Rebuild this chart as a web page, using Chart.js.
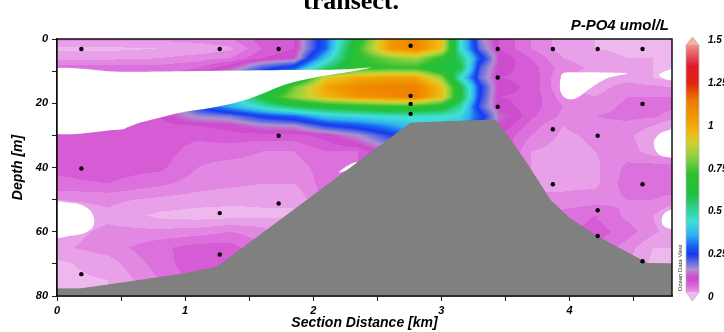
<!DOCTYPE html>
<html><head><meta charset="utf-8">
<script src="https://cdn.jsdelivr.net/npm/chart.js@4.4.1/dist/chart.umd.min.js"></script>
<style>html,body{margin:0;padding:0;background:#fff;overflow:hidden}canvas{display:block}</style>
</head><body>
<canvas id="c" width="724" height="332"></canvas>
<script>
// ---------- DATA ----------
const chartTitle = 'transect.';
const variableName = 'P-PO4 umol/L';
const colorbarTicks = [0, 0.25, 0.5, 0.75, 1, 1.25, 1.5];
const xTickLabels = [0, 1, 2, 3, 4];
const yTickLabels = [0, 20, 40, 60, 80];

// gridded P-PO4 field: columns at gridKm, rows at gridDepth
const gridKm = [0, 0.4, 0.8, 1.1, 1.35, 1.6, 1.85, 2.1, 2.35, 2.6, 2.8, 3.0, 3.15, 3.3, 3.45, 3.7, 3.95, 4.2, 4.45, 4.65, 4.8];
const gridDepth = [0, 3, 6, 9, 12, 15, 18, 21, 24, 27, 30, 35, 40, 45, 50, 55, 60, 65, 70, 75, 80];
const po4ByKm = [
  [0.045,0.015,0.035,0.07,0.08,0.08,0.08,0.08,0.08,0.08,0.085,0.09,0.085,0.075,0.04,0.02,0.03,0.035,0.015,0.015,0.02],
  [0.045,0.015,0.035,0.07,0.08,0.08,0.08,0.08,0.08,0.08,0.085,0.09,0.09,0.08,0.045,0.035,0.045,0.05,0.03,0.02,0.02],
  [0.045,0.02,0.04,0.07,0.08,0.08,0.08,0.08,0.1,0.09,0.09,0.09,0.085,0.065,0.035,0.015,0.045,0.075,0.07,0.06,0.06],
  [0.05,0.025,0.05,0.08,0.1,0.15,0.2,0.25,0.17,0.1,0.085,0.07,0.06,0.05,0.03,0.01,0.05,0.09,0.095,0.09,0.09],
  [0.06,0.035,0.06,0.12,0.2,0.3,0.4,0.36,0.19,0.11,0.09,0.07,0.05,0.045,0.025,0.012,0.06,0.09,0.09,0.09,0.09],
  [0.09,0.08,0.1,0.22,0.3,0.45,0.62,0.47,0.26,0.15,0.09,0.06,0.05,0.04,0.025,0.015,0.05,0.06,0.06,0.06,0.06],
  [0.1,0.1,0.12,0.28,0.5,0.78,0.83,0.58,0.3,0.16,0.09,0.06,0.05,0.04,0.02,0.02,0.02,0.02,0.02,0.02,0.02],
  [0.3,0.3,0.4,0.55,0.92,1.02,0.98,0.64,0.4,0.24,0.11,0.08,0.07,0.07,0.07,0.07,0.07,0.07,0.07,0.07,0.07],
  [0.65,0.72,0.7,0.7,1.0,1.1,1.06,0.68,0.43,0.28,0.16,0.08,0.08,0.08,0.08,0.08,0.08,0.08,0.08,0.08,0.08],
  [1.05,1.05,0.8,0.72,1.03,1.12,1.1,0.72,0.46,0.34,0.24,0.14,0.12,0.12,0.12,0.12,0.12,0.12,0.12,0.12,0.12],
  [1.12,1.1,0.85,0.72,1.02,1.12,1.12,0.72,0.46,0.4,0.35,0.35,0.35,0.35,0.35,0.35,0.35,0.35,0.35,0.35,0.35],
  [0.95,0.95,0.7,0.6,0.82,0.96,0.96,0.66,0.45,0.4,0.4,0.4,0.4,0.4,0.4,0.4,0.4,0.4,0.4,0.4,0.4],
  [0.45,0.45,0.55,0.6,0.45,0.6,0.62,0.5,0.42,0.4,0.4,0.4,0.4,0.4,0.4,0.4,0.4,0.4,0.4,0.4,0.4],
  [0.18,0.2,0.28,0.22,0.2,0.26,0.25,0.22,0.28,0.25,0.2,0.2,0.2,0.2,0.2,0.2,0.2,0.2,0.2,0.2,0.2],
  [0.1,0.1,0.12,0.11,0.1,0.11,0.1,0.11,0.14,0.12,0.1,0.1,0.1,0.1,0.1,0.1,0.1,0.1,0.1,0.1,0.1],
  [0.06,0.06,0.08,0.09,0.095,0.095,0.095,0.09,0.085,0.07,0.06,0.04,0.04,0.04,0.04,0.04,0.04,0.04,0.04,0.04,0.04],
  [0.03,0.03,0.04,0.05,0.04,0.04,0.05,0.06,0.055,0.04,0.035,0.03,0.03,0.035,0.045,0.07,0.07,0.07,0.07,0.07,0.07],
  [0.02,0.02,0.03,0.035,0.03,0.03,0.04,0.05,0.06,0.055,0.045,0.04,0.035,0.035,0.05,0.08,0.09,0.08,0.08,0.08,0.08],
  [0.02,0.015,0.02,0.03,0.03,0.05,0.06,0.065,0.065,0.055,0.045,0.05,0.065,0.07,0.06,0.055,0.07,0.05,0.04,0.04,0.04],
  [0.02,0.015,0.02,0.02,0.02,0.045,0.06,0.07,0.065,0.04,0.025,0.03,0.07,0.08,0.06,0.04,0.045,0.02,0.015,0.015,0.015],
  [0.02,0.02,0.015,0.01,0.01,0.04,0.06,0.065,0.05,0.02,0.015,0.02,0.07,0.08,0.05,0.02,0.03,0.02,0.02,0.02,0.02]
];

// areas left blank (no gridded value)
const gapA_km    = [-0.1, 0.5, 1.0, 1.5, 2.0, 2.3, 2.45, 2.3, 2.03, 1.77, 1.5, 1.24, 0.98, 0.8, 0.65, 0.55, 0.45, -0.1];
const gapA_depth = [10.3, 10.2, 10.0, 9.8, 9.6, 9.3, 8.9, 10.1, 11.8, 14.3, 18.6, 21.2, 22.8, 24.5, 26.0, 27.5, 28.3, 28.3];
const gapB_km    = [-0.1, 0.1, 0.2, 0.26, 0.29, 0.28, 0.22, 0.12, -0.1];
const gapB_depth = [51.2, 51.0, 51.8, 53.5, 56, 58.5, 60.3, 61.2, 61.6];
const gapC_km    = [3.96, 4.1, 4.24, 4.45, 4.29, 4.16, 4.06, 3.98, 3.93, 3.93];
const gapC_depth = [10.5, 10.4, 10.4, 10.7, 12.3, 15.4, 18.3, 18.6, 16.4, 12.4];
const gapD_km    = [4.9, 4.78, 4.7, 4.78, 4.9];
const gapD_depth = [9.0, 9.6, 11.3, 12.8, 13.2];
const gapE_km    = [4.9, 4.74, 4.67, 4.66, 4.7, 4.78, 4.9];
const gapE_depth = [28.3, 28.8, 31, 33.5, 36, 36.8, 37];
const gapF_km    = [4.9, 4.77, 4.72, 4.75, 4.9];
const gapF_depth = [53, 53.5, 56, 58.6, 59.2];
const gapG_km    = [2.2, 2.27, 2.34, 2.31];
const gapG_depth = [41.6, 39.4, 38.4, 40.0];

// sample locations (stations)
const sampleKm    = [0.19,0.19,0.19, 1.27,1.27,1.27, 1.73,1.73,1.73, 2.76,2.76,2.76,2.76, 3.44,3.44,3.44, 3.87,3.87,3.87, 4.22,4.22,4.22,4.22, 4.57,4.57,4.57,4.57];
const sampleDepth = [3.1,40.3,73.2, 3.1,54.2,67.1, 3.1,30.1,51.2, 2.1,17.7,20.2,23.3, 3.1,12.0,21.1, 3.1,28.1,45.2, 3.1,30.1,53.3,61.3, 3.1,20.2,45.2,69.2];

// bottom topography
const bottomKm    = [0, 0.18, 0.5, 0.98, 1.25, 2.76, 3.42, 3.55, 3.67, 3.85, 4.0, 4.22, 4.61, 4.8];
const bottomDepth = [77.8, 77.8, 76.0, 73.2, 71.0, 26.2, 25.2, 32.0, 39.0, 50.2, 55.8, 61.6, 69.9, 70.0];

// ---------- colour map (ODV-like) ----------
const pinkBands = [[238,184,238],[232,160,232],[226,136,226],[220,112,220],[214,92,214],[206,76,206]];
const stops = [[0.12,[204,80,204]],[0.16,[176,144,208]],[0.2,[96,112,224]],[0.25,[24,56,240]],[0.3,[24,100,240]],
  [0.36,[48,176,240]],[0.44,[64,224,216]],[0.52,[48,208,144]],[0.6,[32,192,64]],[0.72,[48,192,48]],[0.82,[144,208,64]],
  [0.9,[208,210,48]],[0.97,[240,184,16]],[1.05,[240,152,0]],[1.15,[238,122,0]],[1.25,[224,36,16]],[1.35,[224,24,48]],
  [1.45,[240,120,120]],[1.5,[244,178,160]]];
function lerpC(a,b,t){return [a[0]+(b[0]-a[0])*t,a[1]+(b[1]-a[1])*t,a[2]+(b[2]-a[2])*t];}
function colorFor(v, banded){
  if (v < 0.12){
    if (v < 0) v = 0;
    if (banded){ return pinkBands[Math.min(5, Math.floor(v/0.02))]; }
    const f = v/0.02, i = Math.min(4, Math.floor(f));
    return lerpC(pinkBands[i], pinkBands[i+1], Math.min(1, f-i));
  }
  if (v >= 1.5) return stops[stops.length-1][1];
  for (let k=0;k<stops.length-1;k++){
    if (v <= stops[k+1][0]) return lerpC(stops[k][1], stops[k+1][1], (v-stops[k][0])/(stops[k+1][0]-stops[k][0]));
  }
  return stops[stops.length-1][1];
}
function locate(arr, v){
  const n = arr.length;
  if (v <= arr[0]) return [0,0];
  if (v >= arr[n-1]) return [n-2,1];
  let i=0; while (v > arr[i+1]) i++;
  return [i,(v-arr[i])/(arr[i+1]-arr[i])];
}
function smoothClosed(ctx, pts){
  const n = pts.length;
  ctx.moveTo(pts[0][0], pts[0][1]);
  for (let i=0;i<n;i++){
    const p0=pts[(i-1+n)%n], p1=pts[i], p2=pts[(i+1)%n], p3=pts[(i+2)%n];
    ctx.bezierCurveTo(p1[0]+(p2[0]-p0[0])/6, p1[1]+(p2[1]-p0[1])/6, p2[0]-(p3[0]-p1[0])/6, p2[1]-(p3[1]-p1[1])/6, p2[0], p2[1]);
  }
  ctx.closePath();
}
const gaps = [[gapA_km,gapA_depth],[gapB_km,gapB_depth],[gapC_km,gapC_depth],[gapD_km,gapD_depth],[gapE_km,gapE_depth],[gapF_km,gapF_depth],[gapG_km,gapG_depth]];

const FONT = '"Liberation Sans", Arial, sans-serif';

const fieldLayer = {
  id:'fieldLayer',
  beforeDatasetsDraw(chart){
    const {ctx, chartArea:a, scales} = chart;
    const xs = scales.x, ys = scales.y;
    const w = Math.round(a.right-a.left), h = Math.round(a.bottom-a.top);
    const off = document.createElement('canvas'); off.width = w; off.height = h;
    const octx = off.getContext('2d');
    const img = octx.createImageData(w,h);
    const cols = [], rows = [];
    for (let px=0;px<w;px++) cols.push(locate(gridKm, xs.getValueForPixel(a.left+px+0.5)));
    for (let py=0;py<h;py++) rows.push(locate(gridDepth, ys.getValueForPixel(a.top+py+0.5)));
    let k = 0;
    for (let py=0;py<h;py++){
      const [j,td] = rows[py];
      for (let px=0;px<w;px++){
        const [i,tx] = cols[px];
        const v = (1-tx)*(1-td)*po4ByKm[i][j] + tx*(1-td)*po4ByKm[i+1][j] + (1-tx)*td*po4ByKm[i][j+1] + tx*td*po4ByKm[i+1][j+1];
        const c = colorFor(v, true);
        img.data[k++]=c[0]; img.data[k++]=c[1]; img.data[k++]=c[2]; img.data[k++]=255;
      }
    }
    octx.putImageData(img,0,0);
    ctx.save();
    ctx.drawImage(off, a.left, a.top);
    ctx.beginPath(); ctx.rect(a.left, a.top, w, h); ctx.clip();
    ctx.fillStyle = '#ffffff';
    gaps.forEach(([gk,gd]) => {
      const pts = gk.map((km,idx) => [xs.getPixelForValue(km), ys.getPixelForValue(gd[idx])]);
      ctx.beginPath(); smoothClosed(ctx, pts); ctx.fill();
    });
    ctx.restore();
  },
  afterDraw(chart){
    const {ctx, chartArea:a} = chart;
    ctx.save();
    ctx.strokeStyle = '#111'; ctx.lineWidth = 1.5;
    ctx.strokeRect(a.left, a.top, a.right-a.left, a.bottom-a.top);
    // colour bar
    const cbX = 686, cbW = 13, cbTop = 45, cbBot = 292;
    const vToY = v => 297 - 171*v;
    for (let y=cbTop;y<cbBot;y++){
      const v = (297-(y+0.5))/171;
      const c = colorFor(v,false);
      ctx.fillStyle = `rgb(${c[0]|0},${c[1]|0},${c[2]|0})`;
      ctx.fillRect(cbX, y, cbW, 1);
    }
    const cTop = colorFor(1.5,false), cBot = colorFor(0,false);
    ctx.fillStyle = `rgb(${cTop[0]|0},${cTop[1]|0},${cTop[2]|0})`;
    ctx.beginPath(); ctx.moveTo(cbX,cbTop); ctx.lineTo(cbX+cbW/2,cbTop-8); ctx.lineTo(cbX+cbW,cbTop); ctx.closePath(); ctx.fill();
    ctx.fillStyle = `rgb(${cBot[0]|0},${cBot[1]|0},${cBot[2]|0})`;
    ctx.beginPath(); ctx.moveTo(cbX,cbBot); ctx.lineTo(cbX+cbW/2,cbBot+9); ctx.lineTo(cbX+cbW,cbBot); ctx.closePath(); ctx.fill();
    ctx.strokeStyle = '#b8b8b8'; ctx.lineWidth = 0.8;
    ctx.beginPath(); ctx.moveTo(cbX,cbBot); ctx.lineTo(cbX,cbTop); ctx.lineTo(cbX+cbW/2,cbTop-8); ctx.lineTo(cbX+cbW,cbTop);
    ctx.lineTo(cbX+cbW,cbBot); ctx.lineTo(cbX+cbW/2,cbBot+9); ctx.closePath(); ctx.stroke();
    ctx.fillStyle = '#000';
    ctx.font = `italic bold 10px ${FONT}`;
    ctx.textAlign = 'left'; ctx.textBaseline = 'middle';
    colorbarTicks.forEach(v => ctx.fillText(String(v), 708, vToY(v)));
    // variable name
    ctx.font = `italic bold 15px ${FONT}`;
    ctx.textAlign = 'right'; ctx.textBaseline = 'alphabetic';
    ctx.fillText(variableName, 669, 30);
    // title (cut at top)
    ctx.font = `bold 26px "Liberation Serif", "Times New Roman", serif`;
    ctx.textAlign = 'center';
    ctx.fillText(chartTitle, 351, 9);
    // ODV credit
    ctx.translate(680, 268); ctx.rotate(-Math.PI/2);
    ctx.font = `6px ${FONT}`; ctx.fillStyle = '#222';
    ctx.textAlign = 'center'; ctx.textBaseline = 'middle';
    ctx.fillText('Ocean Data View', 0, 0);
    ctx.restore();
  }
};

const tickFont = {family: FONT, size: 11, style: 'italic', weight: 'bold'};
const titleFont = {family: FONT, size: 14, style: 'italic', weight: 'bold'};
const gridCol = 'rgba(70,70,70,0.85)';

new Chart(document.getElementById('c'), {
  type: 'scatter',
  data: { datasets: [
    { type:'line', label:'bottom', data: bottomKm.map((k,i)=>({x:k, y:bottomDepth[i]})),
      fill:{value:80}, backgroundColor:'#808080', borderColor:'#7e7e7e', borderWidth:1, pointRadius:0, tension:0, order:2 },
    { label:'samples', data: sampleKm.map((k,i)=>({x:k, y:sampleDepth[i]})),
      backgroundColor:'#000', borderWidth:0, pointRadius:2.2, order:1 }
  ]},
  options: {
    responsive:false, animation:false, devicePixelRatio:1,
    layout:{padding:{left:0, top:39, right:52, bottom:0}},
    plugins:{legend:{display:false}, tooltip:{enabled:false}, title:{display:false}},
    scales:{
      x:{ type:'linear', min:0, max:4.8, z:1,
        afterBuildTicks(s){ const t=[]; for(let v=0; v<=4.5; v+=0.5) t.push({value:v}); s.ticks=t; },
        afterFit(s){ s.height = 36; },
        ticks:{ autoSkip:false, maxRotation:0, padding:3, color:'#000', font:tickFont,
          callback:(v)=> xTickLabels.includes(v) ? String(v) : '' },
        grid:{ color:(c)=> (c.tick && Number.isInteger(c.tick.value) && c.tick.value>0) ? gridCol : 'rgba(0,0,0,0)',
          tickColor:'#222', tickLength:5, lineWidth:1 },
        border:{display:true, color:'#111', width:1.5},
        title:{display:true, text:'Section Distance [km]', color:'#000', font:titleFont, padding:{top:0,bottom:0}}
      },
      y:{ type:'linear', min:0, max:80, reverse:true, z:1,
        afterBuildTicks(s){ const t=[]; for(let v=0; v<=80; v+=10) t.push({value:v}); s.ticks=t; },
        afterFit(s){ s.width = 57; },
        ticks:{ autoSkip:false, padding:4, color:'#000', font:tickFont,
          callback:(v)=> yTickLabels.includes(v) ? String(v) : '' },
        grid:{ color:(c)=> (c.tick && c.tick.value%20===0 && c.tick.value>0 && c.tick.value<80) ? gridCol : 'rgba(0,0,0,0)',
          tickColor:'#222', tickLength:5, lineWidth:1 },
        border:{display:true, color:'#111', width:1.5},
        title:{display:true, text:'Depth [m]', color:'#000', font:titleFont, padding:{top:10,bottom:0}}
      }
    }
  },
  plugins:[fieldLayer]
});
</script>
</body></html>
